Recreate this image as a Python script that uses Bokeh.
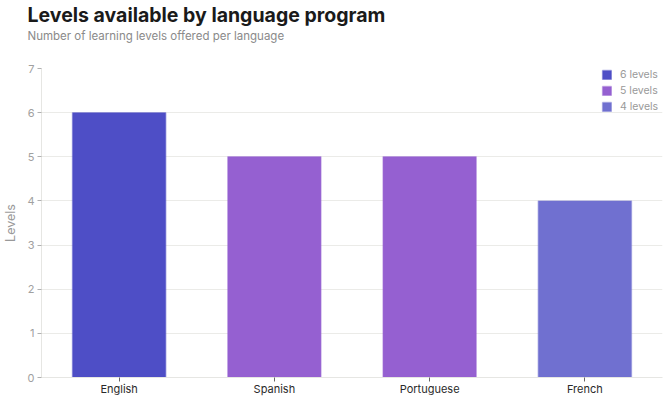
from bokeh.plotting import figure
from bokeh.models import ColumnDataSource, Title
from bokeh.embed import file_html
from bokeh.resources import INLINE

# data
languages = ["English", "Spanish", "Portuguese", "French"]
levels = [6, 5, 5, 4]
level_labels = ["6 levels", "5 levels", "5 levels", "4 levels"]
bar_colors = ["#4e4ec6", "#9560d1", "#9560d1", "#7070d0"]
y_ticks = [0, 1, 2, 3, 4, 5, 6, 7]

FONT = "Inter"

source = ColumnDataSource(data=dict(
    language=languages, levels=levels, label=level_labels, color=bar_colors,
))

p = figure(x_range=languages, y_range=(0, 7), width=670, height=401,
           output_backend="svg", toolbar_location=None, title=None,
           min_border_left=41, min_border_right=8, min_border_bottom=24, min_border_top=0)

p.vbar(x="language", top="levels", width=0.6, source=source,
       fill_color="color", line_color="color", line_alpha=0.45, line_width=1.5,
       legend_field="label")

# titles stack outward from the frame: spacer, subtitle, main title
spacer = Title(text=" ", text_font=FONT, text_font_size="20px", standoff=0)
p.add_layout(spacer, "above")
sub = Title(text="Number of learning levels offered per language", text_font=FONT,
            text_font_size="11.5px", text_font_style="normal", text_color="#8a8a8a",
            offset=-14, standoff=0)
p.add_layout(sub, "above")
main = Title(text="Levels available by language program", text_font=FONT,
             text_font_size="19.5px", text_font_style="bold", text_color="#1a1a1a",
             offset=-14, standoff=0)
p.add_layout(main, "above")

p.outline_line_color = None
p.xgrid.grid_line_color = None
p.ygrid.grid_line_color = "#ebebe8"
p.ygrid.ticker = y_ticks

p.yaxis.ticker = y_ticks
p.yaxis.axis_label = "Levels"
p.yaxis.axis_label_text_font = FONT
p.yaxis.axis_label_text_font_style = "normal"
p.yaxis.axis_label_text_font_size = "12.5px"
p.yaxis.axis_label_text_color = "#999999"
p.yaxis.axis_label_standoff = 6
p.yaxis.major_label_text_font = FONT
p.yaxis.major_label_text_font_size = "11px"
p.yaxis.major_label_text_color = "#a0a0a0"
p.yaxis.axis_line_color = "#e6e6e3"
p.yaxis.major_tick_line_color = "#b0b0b0"
p.yaxis.major_tick_out = 4
p.yaxis.major_tick_in = 0
p.yaxis.minor_tick_line_color = None
p.yaxis.major_label_standoff = 3

p.xaxis.major_label_text_font = FONT
p.xaxis.major_label_text_font_size = "11px"
p.xaxis.major_label_text_color = "#2a2a2a"
p.xaxis.axis_line_color = "#e6e6e3"
p.xaxis.major_tick_line_color = "#666666"
p.xaxis.major_tick_out = 4
p.xaxis.major_tick_in = 0
p.xaxis.major_label_standoff = 0
p.xaxis.axis_label_standoff = 0

# legend placed in screen units from the frame's bottom-left corner
p.legend.location = (560, 264)
p.legend.border_line_color = None
p.legend.background_fill_alpha = 0
p.legend.margin = 0
p.legend.padding = 0
p.legend.spacing = 3
p.legend.glyph_width = 11
p.legend.glyph_height = 11
p.legend.label_text_font = FONT
p.legend.label_text_font_size = "10.5px"
p.legend.label_text_color = "#999999"
p.legend.label_standoff = 8

open("out.html", "w").write(file_html(p, INLINE))
